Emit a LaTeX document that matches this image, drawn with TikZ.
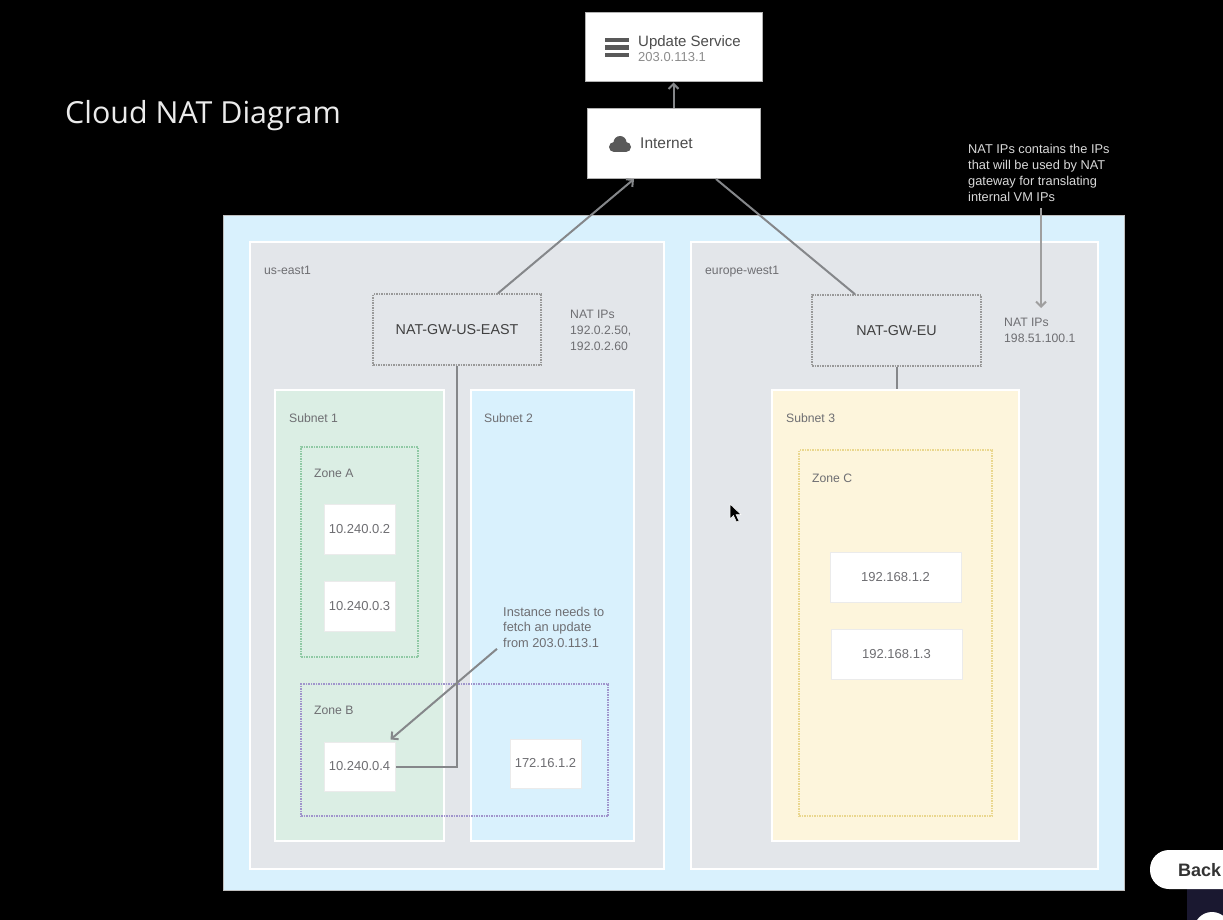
\documentclass[tikz,border=0pt]{standalone}
\usepackage{fontspec}
\usetikzlibrary{arrows.meta}
\setmainfont{Liberation Sans}
\newfontfamily\titlefont{Open Sans}
\definecolor{vpcblue}{HTML}{D9F1FD}
\definecolor{regiongray}{HTML}{E3E6EA}
\definecolor{subgreen}{HTML}{DBEEE4}
\definecolor{subyellow}{HTML}{FDF5DC}
\definecolor{labelgray}{HTML}{6E6E72}
\definecolor{wiregray}{HTML}{85878A}
\definecolor{backdark}{HTML}{1A1830}
\definecolor{zonegreen}{HTML}{8FC9A4}
\definecolor{zonepurple}{HTML}{A094CC}
\definecolor{zoneyellow}{HTML}{EAD78E}
\tikzset{
  region/.style={rectangle,draw=white,line width=2pt,fill=#1,inner sep=0pt},
  gateway/.style={rectangle,draw=black!40,densely dotted,line width=1.5pt,inner sep=0pt,
    text=black!75,font=\fontsize{14.3}{16}\selectfont},
  zone/.style={rectangle,draw=#1,densely dotted,line width=1.5pt,inner sep=0pt},
  vm/.style={rectangle,draw=black!8,fill=white,line width=1pt,inner sep=0pt,text=labelgray,
    font=\fontsize{13}{15}\selectfont},
  top/.style={rectangle,draw=gray!60,fill=white,line width=1pt,inner sep=0pt},
  lbl/.style={anchor=north west,inner sep=0pt,align=left,text=labelgray,
    font=\fontsize{12.2}{16}\selectfont},
  wire/.style={draw=wiregray,line width=2pt},
  arr/.style={wire,-{Straight Barb[length=5pt,width=10pt]}},
}
\begin{document}
\begin{tikzpicture}[x=1pt,y=-1pt]
\useasboundingbox (0,0) rectangle (1223,920);
\clip (0,0) rectangle (1223,920);
\fill[black] (0,0) rectangle (1223,920);
\node[anchor=west,inner sep=0pt,text=white!92!black,font=\titlefont\fontsize{30.4}{34}\selectfont] (title) at (65,116) {Cloud NAT Diagram};
% top boxes
\node[top,minimum width=177pt,minimum height=69pt] (update) at (673.5,47.5) {};
\node[top,minimum width=173pt,minimum height=70pt] (internet) at (673.5,143.5) {};
\fill[black!65] (605,38) rectangle (629,42);
\fill[black!65] (605,45) rectangle (629,50);
\fill[black!65] (605,53) rectangle (629,57);
\fill[black!65] (614,147) circle (5);
\fill[black!65] (620,142.5) circle (6.5);
\fill[black!65] (626,147) circle (5);
\fill[black!65] (614,147) rectangle (626,152);
\node[lbl,text=black!70,font=\fontsize{15}{16}\selectfont] (updatename) at (638,35) {Update Service};
\node[lbl,text=black!45,font=\fontsize{13}{14}\selectfont] (updateip) at (638,52) {203.0.113.1};
\node[lbl,text=black!70,font=\fontsize{15.5}{16}\selectfont] (internetname) at (640,138) {Internet};
% vpc and regions
\node[rectangle,draw=gray!50,fill=vpcblue,line width=1pt,inner sep=0pt,minimum width=901pt,minimum height=674pt] (vpc) at (673.5,553) {};
\node[region=regiongray,minimum width=414pt,minimum height=627pt] (useast) at (457,555.5) {};
\node[region=regiongray,minimum width=407pt,minimum height=627pt] (europe) at (894.5,555.5) {};
\node[lbl] (useastname) at (264,266) {us-east1};
\node[lbl] (europename) at (705,266) {europe-west1};
% subnets
\node[region=subgreen,minimum width=169pt,minimum height=451pt] (subnetone) at (359.5,615.5) {};
\node[region=vpcblue,minimum width=163pt,minimum height=451pt] (subnettwo) at (552.5,615.5) {};
\node[region=subyellow,minimum width=247pt,minimum height=451pt] (subnetthree) at (895.5,615.5) {};
\node[lbl] (subnetonename) at (289,413) {Subnet 1};
\node[lbl] (subnettwoname) at (484,413) {Subnet 2};
\node[lbl] (subnetthreename) at (786,413) {Subnet 3};
% zones
\node[zone=zonegreen,minimum width=117pt,minimum height=210pt] (zonea) at (359.5,552) {};
\node[zone=zonepurple,minimum width=307pt,minimum height=132pt] (zoneb) at (454.5,750) {};
\node[zone=zoneyellow,minimum width=193pt,minimum height=366pt] (zonec) at (895.5,633) {};
\node[lbl] (zoneaname) at (314,469) {Zone A};
\node[lbl] (zonebname) at (314,706) {Zone B};
\node[lbl] (zonecname) at (812,474) {Zone C};
% gateways
\node[gateway,minimum width=168pt,minimum height=71pt] (gwus) at (457,329.5) {NAT-GW-US-EAST};
\node[gateway,minimum width=169pt,minimum height=71pt] (gweu) at (896.5,330.5) {NAT-GW-EU};
\node[lbl] (natipsus) at (570,310) {NAT IPs\\192.0.2.50,\\192.0.2.60};
\node[lbl] (natipseu) at (1004,318) {NAT IPs\\198.51.100.1};
% instances
\node[vm,minimum width=71pt,minimum height=50pt] (vma) at (359.5,529) {10.240.0.2};
\node[vm,minimum width=71pt,minimum height=50pt] (vmb) at (359.5,606) {10.240.0.3};
\node[vm,minimum width=71pt,minimum height=49pt] (vmc) at (359.5,766.5) {10.240.0.4};
\node[vm,minimum width=71pt,minimum height=49pt] (vmd) at (545.5,763.5) {172.16.1.2};
\node[vm,minimum width=131pt,minimum height=50pt] (vme) at (895.5,577) {192.168.1.2};
\node[vm,minimum width=131pt,minimum height=50pt] (vmf) at (896.5,654) {192.168.1.3};
% notes
\node[lbl,font=\fontsize{12.8}{15.5}\selectfont] (fetchnote) at (503,607) {Instance needs to\\fetch an update\\from 203.0.113.1};
\node[lbl,text=white!85!black,font=\fontsize{12.8}{16}\selectfont] (natnote) at (968,144) {NAT IPs contains the IPs\\that will be used by NAT\\gateway for translating\\internal VM IPs};
\coordinate (natnotetip) at (1041,308);
\coordinate (natnoteend) at (1041,208);
% connectors
\draw[arr] (internet.north) -- (update.south);
\draw[arr] ([xshift=41pt]gwus.north) -- ([xshift=-39.5pt]internet.south);
\draw[wire] ([xshift=42.5pt]internet.south) -- ([xshift=-41.5pt]gweu.north);
\draw[wire] (gweu.south) -- (gweu.south |- subnetthree.north);
\draw[wire] (gwus.south) |- (vmc.east);
\draw[arr] ([xshift=-6pt,yshift=-1pt]fetchnote.south west) -- ([xshift=-5pt,yshift=2pt]vmc.north east);
\draw[arr,draw=gray!75] (natnoteend) -- (natnotetip);
% cursor and back button
\coordinate (cursorpt) at (730,504);
\fill[black,draw=white,line width=.5pt] (cursorpt) -- ++(0,15) -- ++(3.5,-3.5) -- ++(3,6.5) -- ++(2.5,-1) -- ++(-3,-6.5) -- ++(5,0) -- cycle;
\fill[backdark] (1187,889) rectangle (1223,920);
\fill[white] (1212,930) circle (18);
\node[rectangle,rounded corners=19pt,fill=white,minimum width=110pt,minimum height=39pt,inner sep=0pt] (backbtn) at (1205,869.5) {};
\node[anchor=west,inner sep=0pt,text=black!80,font=\fontsize{18}{20}\selectfont\bfseries] (backname) at (1178,870) {Back};
\end{tikzpicture}
\end{document}
